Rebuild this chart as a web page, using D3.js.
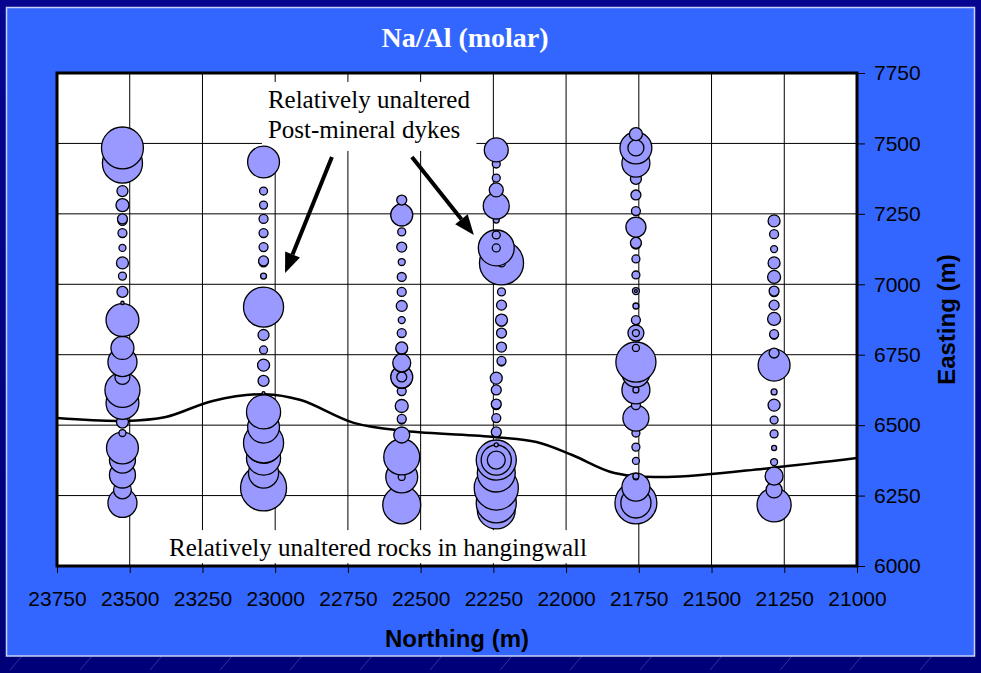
<!DOCTYPE html>
<html>
<head>
<meta charset="utf-8">
<script src="https://cdn.jsdelivr.net/npm/d3@7"></script>
<style>
  html, body { margin: 0; padding: 0; background: #000088; }
  svg { display: block; }
</style>
</head>
<body>
<svg id="chart" width="981" height="673"></svg>
<script>
// ---- axis ticks ----
const northingTicks = [23750, 23500, 23250, 23000, 22750, 22500, 22250, 22000, 21750, 21500, 21250, 21000];
const eastingTicks = [6000, 6250, 6500, 6750, 7000, 7250, 7500, 7750];

// ---- drill-hole collar northings (hole 4 splits where the trace steps east) ----
const holeNorthing = [23525, 23040, 22565, 22240, 22222, 21760, 21285];

// ---- sample eastings (m) and Na/Al molar ratios for each hole ----
const hole1Easting = [7484, 7430, 7331, 7281, 7232, 7225, 7182, 7129, 7076, 7029, 6973, 6934, 6873, 6774, 6724, 6671, 6625, 6579, 6511, 6472, 6419, 6376, 6323, 6270, 6224];
const hole1NaAl    = [0.83, 0.76, 0.057, 0.080, 0.047, 0.038, 0.038, 0.023, 0.068, 0.030, 0.057, 0.005, 0.51, 0.25, 0.40, 0.106, 0.58, 0.51, 0.068, 0.023, 0.48, 0.32, 0.32, 0.15, 0.40];

const hole2Easting = [7434, 7331, 7281, 7232, 7182, 7132, 7083, 7078, 7029, 6919, 6870, 6820, 6767, 6713, 6657, 6614, 6547, 6493, 6437, 6432, 6383, 6330, 6277];
const hole2NaAl    = [0.48, 0.030, 0.030, 0.038, 0.038, 0.038, 0.047, 0.038, 0.017, 0.76, 0.038, 0.057, 0.030, 0.068, 0.057, 0.004, 0.55, 0.48, 0.76, 0.68, 0.55, 0.43, 1.00];

const hole3Easting = [7299, 7246, 7186, 7132, 7079, 7026, 6973, 6923, 6873, 6827, 6774, 6770, 6721, 6716, 6671, 6666, 6671, 6621, 6568, 6522, 6518, 6465, 6387, 6316, 6316, 6217];
const hole3NaAl    = [0.047, 0.23, 0.030, 0.047, 0.023, 0.038, 0.038, 0.057, 0.023, 0.038, 0.068, 0.057, 0.153, 0.121, 0.23, 0.19, 0.047, 0.038, 0.080, 0.038, 0.030, 0.121, 0.61, 0.48, 0.023, 0.68];

const hole4Easting = [7477, 7427, 7377, 7335, 7278, 7228, 7175, 7129, 7129, 6667, 6625, 6575, 6571, 6525, 6476, 6472, 6430, 6376, 6376, 6376, 6330, 6277, 6224, 6199];
const hole4NaAl    = [0.27, 0.030, 0.030, 0.093, 0.32, 0.017, 0.030, 0.61, 0.030, 0.068, 0.047, 0.047, 0.038, 0.038, 0.047, 0.038, 0.008, 0.76, 0.43, 0.153, 0.68, 0.92, 0.76, 0.68];

const hole4bEasting = [7076, 7076, 6973, 6926, 6873, 6869, 6827, 6777, 6728, 6724];
const hole4bNaAl    = [0.92, 0.030, 0.030, 0.047, 0.068, 0.047, 0.047, 0.047, 0.038, 0.030];

const hole5Easting = [7533, 7484, 7484, 7430, 7374, 7317, 7260, 7203, 7147, 7143, 7090, 7033, 6976, 6976, 6923, 6873, 6827, 6827, 6774, 6724, 6685, 6625, 6625, 6571, 6525, 6472, 6422, 6373, 6319, 6315, 6280, 6224, 6224];
const hole5NaAl    = [0.080, 0.48, 0.121, 0.37, 0.057, 0.047, 0.038, 0.19, 0.057, 0.047, 0.030, 0.030, 0.023, 0.004, 0.017, 0.038, 0.121, 0.023, 0.023, 0.76, 0.37, 0.37, 0.017, 0.038, 0.32, 0.030, 0.030, 0.023, 0.017, 0.012, 0.37, 0.83, 0.43];

const hole6Easting = [7225, 7178, 7125, 7076, 7026, 6976, 6972, 6926, 6877, 6823, 6819, 6756, 6713, 6671, 6618, 6571, 6518, 6469, 6419, 6369, 6319, 6270, 6217];
const hole6NaAl    = [0.068, 0.038, 0.023, 0.068, 0.080, 0.047, 0.038, 0.047, 0.080, 0.038, 0.030, 0.047, 0.48, 0.023, 0.017, 0.068, 0.030, 0.030, 0.012, 0.023, 0.153, 0.121, 0.55];

// ---- hangingwall contact trace ----
const contactNorthing = [23750, 23520, 23376, 23215, 23036, 22912, 22730, 22552, 22246, 22102, 21979, 21834, 21652, 21296, 21000];
const contactEasting  = [6525, 6515, 6529, 6586, 6610, 6589, 6508, 6479, 6458, 6440, 6394, 6330, 6316, 6348, 6383];

// ---- text ----
const titleText = "Na/Al (molar)";
const xTitle = "Northing (m)";
const yTitle = "Easting (m)";
const dykeLabel = ["Relatively unaltered", "Post-mineral dykes"];
const hangingwallLabel = "Relatively unaltered rocks in hangingwall";

// ---- layout ----
const W = 981, H = 673;
const plot = { left: 57, right: 857, top: 73, bottom: 566 };
const sans = "'Liberation Sans', Arial, sans-serif";
const serif = "'Liberation Serif', 'Times New Roman', serif";

const svg = d3.select("#chart");

const x = d3.scaleLinear().domain([23750, 21000]).range([plot.left, plot.right]);
const y = d3.scaleLinear().domain([6000, 7750]).range([plot.bottom, plot.top]);
const r = d3.scaleSqrt().domain([0, 1]).range([0, 23]);

// slide backdrop with faint streaks
const defs = svg.append("defs");
const pat = defs.append("pattern").attr("id", "streaks")
  .attr("width", 70).attr("height", 70).attr("patternUnits", "userSpaceOnUse");
pat.append("line").attr("x1", 10).attr("y1", 40).attr("x2", 22).attr("y2", 26)
  .attr("stroke", "#7d88d8").attr("stroke-width", 0.8).attr("opacity", 0.45);
pat.append("line").attr("x1", 45).attr("y1", 68).attr("x2", 53).attr("y2", 58)
  .attr("stroke", "#7d88d8").attr("stroke-width", 0.8).attr("opacity", 0.35);
const bgGrad = defs.append("linearGradient").attr("id", "navy").attr("x1", 0).attr("y1", 0).attr("x2", 0).attr("y2", 1);
bgGrad.append("stop").attr("offset", "0%").attr("stop-color", "#05058f");
bgGrad.append("stop").attr("offset", "100%").attr("stop-color", "#000078");
svg.append("rect").attr("width", W).attr("height", H).attr("fill", "url(#navy)");
svg.append("rect").attr("width", W).attr("height", H).attr("fill", "url(#streaks)");

// blue panel
svg.append("rect").attr("x", 6.5).attr("y", 7.5).attr("width", 968).attr("height", 648.5)
  .attr("fill", "#3366ff").attr("stroke", "#c9d2f5").attr("stroke-width", 1.5);

// title
svg.append("text").attr("x", 465).attr("y", 47).attr("text-anchor", "middle")
  .attr("font-family", serif).attr("font-weight", "bold").attr("font-size", 28)
  .attr("fill", "#ffffff").text(titleText);

// plot background
svg.append("rect").attr("x", plot.left).attr("y", plot.top)
  .attr("width", plot.right - plot.left).attr("height", plot.bottom - plot.top)
  .attr("fill", "#ffffff");

// gridlines
const grid = svg.append("g").attr("stroke", "#000").attr("stroke-width", 1);
grid.selectAll("line.v").data(northingTicks.slice(1, -1)).join("line")
  .attr("x1", d => x(d)).attr("x2", d => x(d)).attr("y1", plot.top).attr("y2", plot.bottom);
grid.selectAll("line.h").data(eastingTicks.slice(1, -1)).join("line")
  .attr("x1", plot.left).attr("x2", plot.right).attr("y1", d => y(d)).attr("y2", d => y(d));

// annotation text boxes (white fill hides the grid behind the labels)
const boxLayer = svg.append("g");
const clip = defs.append("clipPath").attr("id", "plotClip");
clip.append("rect").attr("x", plot.left).attr("y", plot.top)
  .attr("width", plot.right - plot.left).attr("height", plot.bottom - plot.top);

// hangingwall contact
const contact = contactNorthing.map((n, i) => [n, contactEasting[i]]);
svg.append("path").attr("clip-path", "url(#plotClip)")
  .attr("d", d3.line().x(d => x(d[0])).y(d => y(d[1])).curve(d3.curveCatmullRom.alpha(0.5))(contact))
  .attr("fill", "none").attr("stroke", "#000").attr("stroke-width", 2.5);

// samples
const eastings = [hole1Easting, hole2Easting, hole3Easting, hole4Easting, hole4bEasting, hole5Easting, hole6Easting];
const ratios = [hole1NaAl, hole2NaAl, hole3NaAl, hole4NaAl, hole4bNaAl, hole5NaAl, hole6NaAl];
const samples = [];
eastings.forEach((list, h) => list.forEach((e, i) =>
  samples.push({ n: holeNorthing[h], e: e, v: ratios[h][i] })));
samples.sort((a, b) => (a.e - b.e) || (b.v - a.v));

svg.append("g").selectAll("circle").data(samples).join("circle")
  .attr("cx", d => x(d.n)).attr("cy", d => y(d.e)).attr("r", d => r(d.v))
  .attr("fill", "#9999ff").attr("stroke", "#000").attr("stroke-width", 1.3);

// annotation labels
const dyke = svg.append("text").attr("font-family", serif).attr("font-size", 25).attr("fill", "#000");
dyke.selectAll("tspan").data(dykeLabel).join("tspan")
  .attr("x", x(23025)).attr("y", (d, i) => y(7626) + i * 30).text(d => d);
const hw = svg.append("text").attr("font-family", serif).attr("font-size", 25).attr("fill", "#000")
  .attr("x", x(23365)).attr("y", y(6035)).text(hangingwallLabel);

[[dyke, 6, 4, 8], [hw, 7, 4, 2]].forEach(([t, px, pt, pb]) => {
  const b = t.node().getBBox();
  boxLayer.append("rect").attr("x", b.x - px).attr("y", b.y - pt)
    .attr("width", b.width + 2 * px).attr("height", b.height + pt + pb).attr("fill", "#fff");
});

// arrows to the dykes
const arrowData = [
  { from: [22805, 7452], to: [22966, 7040] },
  { from: [22530, 7452], to: [22317, 7175] }
];
arrowData.forEach(a => {
  const x1 = x(a.from[0]), y1 = y(a.from[1]), x2 = x(a.to[0]), y2 = y(a.to[1]);
  const ang = Math.atan2(y2 - y1, x2 - x1);
  const len = 20, half = 8;
  const bx = x2 - len * Math.cos(ang), by = y2 - len * Math.sin(ang);
  svg.append("line").attr("x1", x1).attr("y1", y1).attr("x2", bx).attr("y2", by)
    .attr("stroke", "#000").attr("stroke-width", 4);
  const pts = [
    [x2, y2],
    [bx + half * Math.sin(ang), by - half * Math.cos(ang)],
    [bx - half * Math.sin(ang), by + half * Math.cos(ang)]
  ];
  svg.append("polygon").attr("points", pts.map(p => p.join(",")).join(" ")).attr("fill", "#000");
});

// plot frame
svg.append("rect").attr("x", plot.left).attr("y", plot.top)
  .attr("width", plot.right - plot.left).attr("height", plot.bottom - plot.top)
  .attr("fill", "none").attr("stroke", "#000").attr("stroke-width", 3);

// axes
const xAxis = svg.append("g").attr("transform", `translate(0,${plot.bottom})`)
  .call(d3.axisBottom(x).tickValues(northingTicks).tickFormat(d3.format("d")).tickSize(7).tickPadding(18));
const yAxis = svg.append("g").attr("transform", `translate(${plot.right},0)`)
  .call(d3.axisRight(y).tickValues(eastingTicks).tickFormat(d3.format("d")).tickSize(8).tickPadding(9));
[xAxis, yAxis].forEach(g => {
  g.select(".domain").remove();
  g.selectAll(".tick line").attr("stroke", "#000").attr("stroke-width", 1);
  g.selectAll(".tick text").attr("font-family", sans).attr("font-size", 21).attr("fill", "#000");
});

// axis titles
svg.append("text").attr("x", 457).attr("y", 647).attr("text-anchor", "middle")
  .attr("font-family", sans).attr("font-weight", "bold").attr("font-size", 24).attr("fill", "#000")
  .text(xTitle);
svg.append("text").attr("transform", `translate(955,${(plot.top + plot.bottom) / 2}) rotate(-90)`)
  .attr("text-anchor", "middle")
  .attr("font-family", sans).attr("font-weight", "bold").attr("font-size", 24).attr("fill", "#000")
  .text(yTitle);
</script>
</body>
</html>
